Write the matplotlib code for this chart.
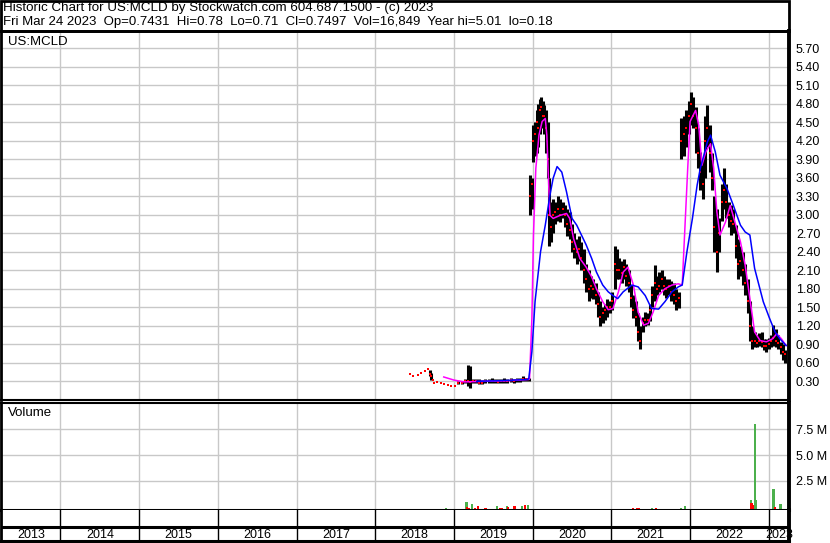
import matplotlib
matplotlib.use("Agg")
import matplotlib.pyplot as plt
import numpy as np
from matplotlib.patches import Rectangle

plt.rcParams['font.family'] = ['Liberation Sans', 'DejaVu Sans']

# price bars (decimal year, high, low, close)
dates = [2018.44, 2018.48, 2018.54, 2018.58, 2018.63, 2018.67, 2018.69, 2018.71, 2018.73, 2018.75,
         2018.79, 2018.83, 2018.87, 2018.92, 2018.96, 2019.01,
         2019.05, 2019.10, 2019.14, 2019.18, 2019.20, 2019.24, 2019.28, 2019.32, 2019.36, 2019.40,
         2019.44, 2019.48, 2019.52, 2019.56, 2019.60, 2019.64, 2019.68, 2019.72, 2019.76, 2019.80,
         2019.84, 2019.88, 2019.92, 2019.95,
         2019.97, 2019.99, 2020.01, 2020.03, 2020.05, 2020.07, 2020.09, 2020.11, 2020.13, 2020.15,
         2020.17, 2020.19, 2020.21, 2020.23, 2020.26, 2020.29, 2020.32, 2020.35, 2020.38, 2020.41,
         2020.44, 2020.47, 2020.50, 2020.53, 2020.56, 2020.59, 2020.62, 2020.65, 2020.68, 2020.71,
         2020.74, 2020.77, 2020.80, 2020.83, 2020.86, 2020.89, 2020.92, 2020.95, 2020.98, 2021.01,
         2021.04, 2021.07, 2021.10, 2021.13, 2021.16, 2021.19, 2021.22, 2021.25, 2021.28, 2021.31,
         2021.34, 2021.37, 2021.40, 2021.43, 2021.46, 2021.49, 2021.52, 2021.55, 2021.58, 2021.61,
         2021.64, 2021.67, 2021.70, 2021.73, 2021.76, 2021.79, 2021.82, 2021.86, 2021.89, 2021.92,
         2021.95, 2021.98, 2022.01, 2022.04, 2022.07, 2022.10, 2022.13, 2022.16, 2022.19, 2022.22,
         2022.25, 2022.28, 2022.31, 2022.34, 2022.37, 2022.40, 2022.43, 2022.46, 2022.49, 2022.52,
         2022.55, 2022.58, 2022.61, 2022.64, 2022.67, 2022.70, 2022.73, 2022.76, 2022.79, 2022.82,
         2022.85, 2022.88, 2022.91, 2022.94, 2022.97, 2023.00, 2023.03, 2023.06, 2023.09, 2023.12,
         2023.15, 2023.18, 2023.21]
highs = [0.42, 0.38, 0.41, 0.43, 0.46, 0.50, 0.48, 0.44, 0.32, 0.27,
         0.29, 0.27, 0.26, 0.24, 0.22, 0.22,
         0.30, 0.31, 0.33, 0.57, 0.55, 0.33, 0.34, 0.33, 0.32, 0.34,
         0.33, 0.35, 0.33, 0.34, 0.33, 0.35, 0.34, 0.35, 0.34, 0.36,
         0.35, 0.38, 0.36, 0.35,
         3.64, 3.60, 4.45, 4.50, 4.70, 4.80, 4.88, 4.91, 4.85, 4.78,
         4.70, 4.50, 3.60, 3.20, 3.26, 3.20, 3.30, 3.25, 3.20, 3.15,
         3.10, 3.05, 2.85, 2.70, 2.60, 2.65, 2.55, 2.45, 2.20, 2.10,
         2.00, 1.96, 1.90, 1.75, 1.60, 1.50, 1.55, 1.64, 1.60, 1.75,
         2.50, 2.45, 2.30, 2.25, 2.29, 2.20, 2.10, 1.86, 1.70, 1.60,
         1.40, 1.20, 1.35, 1.42, 1.40, 1.55, 1.85, 2.18, 2.00, 2.07,
         2.10, 2.00, 1.96, 1.95, 1.92, 1.90, 1.80, 1.75, 4.56, 4.60,
         4.70, 4.85, 4.99, 4.90, 4.75, 4.40, 4.02, 3.90, 4.60, 4.78,
         4.45, 4.00, 3.30, 3.10, 2.94, 3.50, 3.75, 3.50, 3.21, 3.15,
         3.10, 2.83, 2.60, 2.50, 2.40, 2.20, 1.96, 1.60, 1.20, 1.10,
         1.05, 1.08, 1.10, 0.99, 0.98, 1.00, 1.05, 1.21, 1.15, 1.05,
         0.94, 0.90, 0.80]
lows = [0.42, 0.38, 0.41, 0.43, 0.46, 0.50, 0.38, 0.32, 0.32, 0.27,
        0.29, 0.27, 0.26, 0.24, 0.22, 0.22,
        0.25, 0.26, 0.27, 0.22, 0.19, 0.27, 0.27, 0.26, 0.25, 0.27,
        0.27, 0.28, 0.27, 0.27, 0.27, 0.28, 0.28, 0.29, 0.28, 0.29,
        0.29, 0.30, 0.30, 0.30,
        3.00, 3.10, 3.86, 3.95, 4.00, 4.10, 4.30, 4.40, 4.50, 4.30,
        4.00, 3.60, 2.50, 2.55, 2.70, 2.85, 2.90, 2.88, 2.95, 2.80,
        2.65, 2.60, 2.40, 2.30, 2.20, 2.25, 2.10, 1.90, 1.75, 1.60,
        1.65, 1.64, 1.55, 1.35, 1.20, 1.25, 1.30, 1.35, 1.40, 1.45,
        1.80, 1.95, 1.95, 1.90, 1.95, 1.85, 1.75, 1.50, 1.32, 1.20,
        0.95, 0.83, 1.10, 1.20, 1.22, 1.28, 1.50, 1.60, 1.70, 1.75,
        1.80, 1.70, 1.65, 1.70, 1.60, 1.55, 1.45, 1.48, 3.90, 3.95,
        4.10, 4.30, 4.45, 4.40, 4.00, 3.75, 3.40, 3.26, 3.60, 4.10,
        3.70, 3.40, 2.40, 2.07, 2.40, 2.90, 3.10, 2.94, 2.80, 2.67,
        2.70, 2.30, 1.96, 2.00, 1.86, 1.70, 1.40, 0.95, 0.83, 0.85,
        0.86, 0.88, 0.85, 0.80, 0.78, 0.82, 0.85, 0.88, 0.85, 0.83,
        0.75, 0.65, 0.59]
closes = [0.42, 0.38, 0.41, 0.43, 0.46, 0.50, 0.42, 0.38, 0.32, 0.27,
          0.29, 0.27, 0.26, 0.24, 0.22, 0.22,
          0.27, 0.28, 0.30, 0.30, 0.29, 0.31, 0.30, 0.28, 0.27, 0.30,
          0.30, 0.31, 0.30, 0.29, 0.30, 0.31, 0.31, 0.32, 0.30, 0.32,
          0.32, 0.34, 0.33, 0.33,
          3.30, 3.50, 4.20, 4.30, 4.50, 4.40, 4.70, 4.75, 4.60, 4.60,
          4.40, 3.90, 3.00, 2.80, 3.00, 3.05, 3.10, 3.00, 3.10, 3.00,
          2.85, 2.75, 2.55, 2.45, 2.40, 2.45, 2.30, 2.10, 1.95, 1.80,
          1.85, 1.80, 1.70, 1.55, 1.35, 1.40, 1.45, 1.50, 1.50, 1.60,
          2.20, 2.10, 2.10, 2.05, 2.15, 2.00, 1.90, 1.65, 1.45, 1.35,
          1.10, 0.95, 1.25, 1.30, 1.30, 1.45, 1.70, 1.90, 1.80, 1.85,
          1.95, 1.85, 1.80, 1.85, 1.75, 1.70, 1.60, 1.65, 4.20, 4.30,
          4.40, 4.60, 4.80, 4.60, 4.40, 4.00, 3.70, 3.50, 4.20, 4.40,
          4.00, 3.60, 2.80, 2.40, 2.70, 3.20, 3.40, 3.20, 3.00, 2.90,
          2.85, 2.50, 2.20, 2.25, 2.10, 1.90, 1.60, 1.20, 0.95, 0.95,
          0.92, 0.95, 0.93, 0.88, 0.88, 0.90, 0.95, 1.00, 0.95, 0.92,
          0.85, 0.78, 0.75]

# short moving average (magenta)
ma_short_dates = [2018.87, 2019.00, 2019.13, 2019.40, 2019.70, 2019.95, 2019.96, 2019.99, 2020.01, 2020.04,
                  2020.08, 2020.12, 2020.16, 2020.18, 2020.20, 2020.22, 2020.26, 2020.35, 2020.43, 2020.47,
                  2020.52, 2020.60, 2020.68, 2020.75, 2020.81, 2020.89, 2020.96, 2021.02, 2021.09, 2021.15,
                  2021.21, 2021.28, 2021.34, 2021.41, 2021.47, 2021.53, 2021.60, 2021.68, 2021.77, 2021.85,
                  2021.90, 2021.94, 2021.97, 2022.00, 2022.07, 2022.11, 2022.15, 2022.20, 2022.26, 2022.30,
                  2022.34, 2022.38, 2022.45, 2022.51, 2022.57, 2022.64, 2022.70, 2022.76, 2022.82, 2022.89,
                  2022.97, 2023.05, 2023.10, 2023.16, 2023.22]
ma_short = [0.37, 0.32, 0.29, 0.30, 0.31, 0.33, 0.34, 1.32, 2.67, 3.75,
            4.29, 4.51, 4.56, 4.29, 3.59, 2.99, 2.94, 2.99, 3.02, 2.94,
            2.61, 2.29, 2.15, 1.99, 1.80, 1.59, 1.46, 1.48, 1.75, 2.07,
            2.15, 1.86, 1.42, 1.21, 1.24, 1.42, 1.69, 1.80, 1.86, 1.88,
            1.86, 2.94, 3.75, 4.51, 4.69, 4.45, 3.80, 4.02, 4.15, 3.75,
            3.05, 2.67, 2.88, 3.15, 2.88, 2.56, 2.18, 1.64, 1.10, 0.96,
            0.94, 0.99, 1.07, 0.99, 0.88]

# long moving average (blue)
ma_long_dates = [2019.29, 2019.60, 2019.93, 2019.95, 2019.99, 2020.03, 2020.10, 2020.16, 2020.22, 2020.26,
                 2020.31, 2020.37, 2020.43, 2020.50, 2020.56, 2020.62, 2020.68, 2020.75, 2020.81, 2020.89,
                 2020.96, 2021.02, 2021.08, 2021.15, 2021.26, 2021.34, 2021.43, 2021.51, 2021.60, 2021.68,
                 2021.77, 2021.85, 2021.90, 2021.96, 2022.03, 2022.09, 2022.13, 2022.22, 2022.26, 2022.32,
                 2022.38, 2022.47, 2022.55, 2022.64, 2022.70, 2022.76, 2022.82, 2022.93, 2023.01, 2023.08,
                 2023.14, 2023.22]
ma_long = [0.30, 0.31, 0.33, 0.34, 0.78, 1.59, 2.40, 2.83, 3.32, 3.59,
           3.78, 3.69, 3.37, 2.94, 2.83, 2.67, 2.51, 2.29, 2.07, 1.86,
           1.75, 1.69, 1.64, 1.75, 1.86, 1.83, 1.69, 1.48, 1.47, 1.59,
           1.75, 1.83, 1.86, 2.40, 2.94, 3.48, 3.75, 4.18, 4.29, 4.02,
           3.64, 3.42, 3.15, 2.83, 2.72, 2.67, 2.13, 1.59, 1.32, 1.10,
           0.99, 0.88]

# volume (millions), g = up day, r = down day
vol_dates = [2018.68, 2018.82, 2018.90, 2019.16, 2019.17, 2019.19, 2019.23, 2019.27, 2019.31, 2019.35,
             2019.40, 2019.44, 2019.49, 2019.55, 2019.58, 2019.61, 2019.67, 2019.69, 2019.77, 2019.78,
             2019.86, 2019.90, 2019.94, 2019.98, 2020.06, 2020.43, 2020.49, 2020.62, 2020.67, 2020.84,
             2020.88, 2020.93, 2020.96, 2021.01, 2021.04, 2021.27, 2021.28, 2021.33, 2021.35, 2021.38,
             2021.52, 2021.57, 2021.60, 2021.73, 2021.88, 2021.94, 2022.16, 2022.64, 2022.77, 2022.78,
             2022.80, 2022.82, 2022.84, 2022.88, 2022.92, 2023.06, 2023.08, 2023.15, 2023.16]
volumes = [0.08, 0.08, 0.19, 0.77, 0.29, 0.19, 0.58, 0.19, 0.38, 0.10,
           0.19, 0.08, 0.10, 0.38, 0.19, 0.19, 0.38, 0.29, 0.38, 0.10,
           0.38, 0.48, 0.48, 0.08, 0.08, 0.08, 0.08, 0.08, 0.08, 0.08,
           0.08, 0.08, 0.08, 0.08, 0.08, 0.19, 0.08, 0.19, 0.19, 0.08,
           0.19, 0.19, 0.08, 0.08, 0.19, 0.38, 0.08, 0.08, 0.96, 0.63,
           0.48, 8.3, 0.96, 0.08, 0.08, 2.05, 0.29, 0.58, 0.08]
vol_dir = ['r', 'r', 'g', 'g', 'r', 'r', 'g', 'r', 'r', 'g',
           'r', 'g', 'r', 'g', 'r', 'r', 'g', 'r', 'r', 'g',
           'g', 'r', 'g', 'g', 'g', 'r', 'r', 'r', 'r', 'r',
           'g', 'g', 'r', 'g', 'g', 'r', 'g', 'r', 'r', 'g',
           'g', 'r', 'g', 'g', 'g', 'g', 'g', 'r', 'g', 'r',
           'r', 'g', 'g', 'g', 'g', 'g', 'r', 'g', 'r']

years = list(range(2013, 2024))
price_ticks = [0.30, 0.60, 0.90, 1.20, 1.50, 1.80, 2.10, 2.40, 2.70, 3.00,
               3.30, 3.60, 3.90, 4.20, 4.50, 4.80, 5.10, 5.40, 5.70]
vol_ticks = [2.5, 5.0, 7.5]

W, H = 830, 543
t0, t1 = 2013.248, 2023.257
grid_col = '#c8c8c8'
green = '#4cb04c'

fig = plt.figure(figsize=(W / 100, H / 100), dpi=100)


def box(l, t, r, b):
    return [l / W, 1 - b / H, (r - l) / W, (b - t) / H]


# header
fig.add_artist(Rectangle((1 / W, 1 - 31 / H), 788 / W, 30 / H, transform=fig.transFigure,
                         fill=False, edgecolor='black', lw=2))
fig.text(3 / W, 1 - 8.5 / H, 'Historic Chart for US:MCLD by Stockwatch.com 604.687.1500 - (c) 2023',
         fontsize=9.6, va='center', ha='left')
fig.text(3 / W, 1 - 22 / H,
         'Fri Mar 24 2023  Op=0.7431  Hi=0.78  Lo=0.71  Cl=0.7497  Vol=16,849  Year hi=5.01  lo=0.18',
         fontsize=9.5, va='center', ha='left')

# price panel
ax = fig.add_axes(box(1.3, 31, 789, 400))
ax.vlines(dates, lows, highs, color='black', lw=2.2, zorder=2)
ax.plot(dates, closes, 's', color='red', ms=1.6, mew=0, zorder=3)
ax.plot(ma_short_dates, ma_short, color='#ff00ff', lw=1.1, zorder=4)
ax.plot(ma_long_dates, ma_long, color='#0000ff', lw=1.1, zorder=4)
ax.set_xlim(t0, t1)
ax.set_ylim(-0.003, 5.977)
ax.set_xticks(years[1:])
ax.set_xticklabels([])
ax.set_yticks(price_ticks)
ax.set_yticklabels(['%.2f' % v for v in price_ticks])
ax.yaxis.tick_right()
ax.tick_params(axis='both', length=0)
ax.tick_params(axis='y', pad=5, labelsize=9)
ax.grid(True, color=grid_col, lw=1)
ax.set_axisbelow(True)
for s in ['left', 'top']:
    ax.spines[s].set_linewidth(2)
ax.spines['right'].set_linewidth(2.8)
ax.spines['bottom'].set_linewidth(1.5)
ax.text(0.0085, 0.97, 'US:MCLD', transform=ax.transAxes, fontsize=9.5, va='center', ha='left')

# volume panel
axv = fig.add_axes(box(1.3, 402.5, 789, 510))
vcol = [green if d == 'g' else 'red' for d in vol_dir]
axv.set_xlim(t0, t1)
axv.set_ylim(-0.29, 10.05)
axv.bar(vol_dates, volumes, width=0.028, bottom=-0.29, color=vcol, zorder=2)
axv.set_xticks(years[1:])
axv.set_xticklabels([])
axv.set_yticks(vol_ticks)
axv.set_yticklabels(['%.1f M' % v for v in vol_ticks])
axv.yaxis.tick_right()
axv.tick_params(axis='both', length=0)
axv.tick_params(axis='y', pad=5, labelsize=9)
axv.grid(True, color=grid_col, lw=1)
axv.set_axisbelow(True)
axv.spines['left'].set_linewidth(2)
axv.spines['right'].set_linewidth(2.8)
axv.spines['top'].set_linewidth(1.5)
axv.spines['bottom'].set_linewidth(2.2)
axv.text(0.0085, 0.90, 'Volume', transform=axv.transAxes, fontsize=9.5, va='center', ha='left')

# year strip
axy = fig.add_axes(box(1.3, 510, 789, 541))
axy.set_xlim(t0, t1)
axy.set_ylim(0, 1)
axy.set_xticks([])
axy.set_yticks([])
for yr in years[1:]:
    axy.axvline(yr, color='black', lw=1)
axy.axhline(14 / 31, color='black', lw=2.2)
for yr in years:
    lo_edge = max(yr, t0)
    hi_edge = min(yr + 1, t1)
    axy.text((lo_edge + hi_edge) / 2, 6.5 / 31, str(yr), fontsize=9, ha='center', va='center',
             clip_on=False)
axy.spines['left'].set_linewidth(2)
axy.spines['right'].set_linewidth(2.8)
axy.spines['bottom'].set_linewidth(2.2)
axy.spines['top'].set_visible(False)

fig.savefig('out.png', dpi=100)
